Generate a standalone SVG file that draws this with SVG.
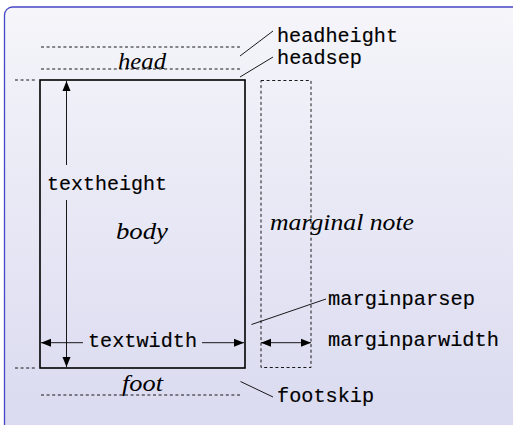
<svg xmlns="http://www.w3.org/2000/svg" width="513" height="425" viewBox="0 0 513 425">
<defs>
<linearGradient id="bg" x1="0" y1="0" x2="0" y2="1">
<stop offset="0" stop-color="#f5f5fa"/>
<stop offset="1" stop-color="#d9d9f0"/>
</linearGradient>
<marker id="ah" viewBox="0 0 10 10" refX="10" refY="5" markerWidth="10" markerHeight="10" markerUnits="userSpaceOnUse" orient="auto-start-reverse">
<path d="M0,1 L10,5 L0,9 Z" fill="#000"/>
</marker>
<style>
.dash{stroke:#000;stroke-width:0.9;stroke-dasharray:3 2.6;fill:none}
.thin{stroke:#000;stroke-width:0.9;fill:none}
.mono{font-family:'Liberation Mono','DejaVu Sans Mono',monospace;font-size:20px;fill:#000;stroke:#000;stroke-width:0.15}
.it{font-family:'Liberation Serif','Times New Roman',serif;font-style:italic;font-size:23px;fill:#000}
</style>
</defs>
<rect x="4.5" y="7" width="530" height="440" rx="8" fill="url(#bg)" stroke="#4646c8" stroke-width="1.3"/>

<g id="head">
<line class="dash" x1="41" y1="47" x2="240" y2="47"/>
<line class="dash" x1="41" y1="69" x2="240" y2="69"/>
<text class="it" x="118" y="69" textLength="48" lengthAdjust="spacingAndGlyphs">head</text>
</g>

<g id="body">
<rect x="40" y="80" width="205" height="288" fill="none" stroke="#000" stroke-width="1.6"/>
<line class="dash" x1="15" y1="80" x2="37" y2="80"/>
<line class="dash" x1="15" y1="368" x2="37" y2="368"/>
<text class="it" x="116" y="239" textLength="52" lengthAdjust="spacingAndGlyphs">body</text>
<text class="mono" x="47" y="190" textLength="120" lengthAdjust="spacingAndGlyphs">textheight</text>
<text class="mono" x="88" y="347" textLength="109" lengthAdjust="spacingAndGlyphs">textwidth</text>
</g>

<g id="foot">
<line class="dash" x1="41" y1="395" x2="240" y2="395"/>
<text class="it" x="122" y="391" textLength="41" lengthAdjust="spacingAndGlyphs">foot</text>
</g>

<g id="marginal">
<rect class="dash" x="261" y="80.5" width="50" height="287"/>
<text class="it" x="270" y="230" textLength="144" lengthAdjust="spacingAndGlyphs">marginal note</text>
</g>

<g id="labels">
<text class="mono" x="277" y="42" textLength="121" lengthAdjust="spacingAndGlyphs">headheight</text>
<text class="mono" x="277" y="64" textLength="85" lengthAdjust="spacingAndGlyphs">headsep</text>
<text class="mono" x="328" y="305" textLength="147" lengthAdjust="spacingAndGlyphs">marginparsep</text>
<text class="mono" x="328" y="346" textLength="171" lengthAdjust="spacingAndGlyphs">marginparwidth</text>
<text class="mono" x="277" y="402" textLength="97" lengthAdjust="spacingAndGlyphs">footskip</text>
</g>

<g id="connectors">
<line class="thin" x1="66.5" y1="165" x2="66.5" y2="81" marker-end="url(#ah)"/>
<line class="thin" x1="66.5" y1="200" x2="66.5" y2="367" marker-end="url(#ah)"/>
<line class="thin" x1="83" y1="342.7" x2="41" y2="342.7" marker-end="url(#ah)"/>
<line class="thin" x1="202" y1="342.7" x2="244" y2="342.7" marker-end="url(#ah)"/>
<line class="thin" x1="261" y1="342.7" x2="311" y2="342.7" marker-start="url(#ah)" marker-end="url(#ah)"/>
<line class="thin" x1="240" y1="56" x2="273" y2="31"/>
<line class="thin" x1="240" y1="77" x2="273" y2="57"/>
<line class="thin" x1="251.5" y1="324.5" x2="326" y2="299"/>
<line class="thin" x1="240.5" y1="381.5" x2="273" y2="397"/>
</g>
</svg>
